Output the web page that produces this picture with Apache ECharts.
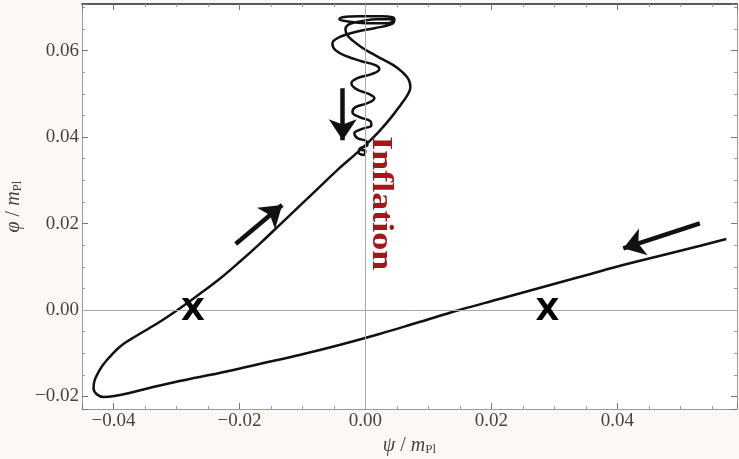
<!DOCTYPE html>
<html><head><meta charset="utf-8">
<script src="https://cdn.jsdelivr.net/npm/echarts@6/dist/echarts.min.js"></script>
<style>html,body{margin:0;padding:0;background:#fcf9f5;} #c{width:739px;height:459px;}</style>
</head><body><div id="c"></div>
<script>
// axis extents (psi / m_Pl horizontal, phi / m_Pl vertical)
const xRange = [-0.045, 0.059];
const yRange = [-0.0229, 0.0708];
const xTitle = '{i|ψ} / {i|m}{s|Pl}';
const yTitle = '{i|φ} / {i|m}{s|Pl}';

// trajectory
const trajPsi = [
  0.0573, 0.05302, 0.04667, 0.04032, 0.03397, 0.02762, 0.02127, 0.01492, 0.00857, 0.00222,
  -0.00413, -0.01048, -0.01683, -0.02317, -0.02952, -0.03429, -0.03746, -0.03984, -0.04159, -0.0427,
  -0.04317, -0.04302, -0.04254, -0.0419, -0.04111, -0.04016, -0.03921, -0.0381, -0.03667, -0.03508,
  -0.03333, -0.03159, -0.02984, -0.02794, -0.02603, -0.02317, -0.02,
  -0.01683, -0.01365, -0.01048, -0.0073, -0.00413, -0.00175, 0.0, 0.00222, 0.00413,
  0.00556, 0.00667, 0.00714, 0.00683, 0.00587, 0.00444, 0.0027, 0.00095, -0.00063, -0.0019,
  -0.00286, -0.00317, -0.00254, -0.00063, 0.0019, 0.00397, 0.00444, 0.00317, 0.0, -0.00302,
  -0.00413, -0.00365, -0.00095, 0.00254, 0.00429, 0.0046, 0.00413, 0.00143, -0.00175, -0.00413,
  -0.00524, -0.00476, -0.00302, -0.00063, 0.00159, 0.00222, 0.00095, -0.00127, -0.00222, -0.00143,
  0.00063, 0.00143, 0.00032, -0.00159, -0.00206, -0.00095, 0.00079, 0.00095, -0.00063, -0.00175,
  -0.00127, 0.00016, 0.00032, -0.00079, -0.00111, -0.00032, 0.0, -0.00063
];
const trajPhi = [
  0.01642, 0.0148, 0.01249, 0.01017, 0.00763, 0.00509, 0.00254, 0.0, -0.00277, -0.00555,
  -0.00809, -0.0104, -0.01249, -0.01457, -0.01642, -0.01803, -0.01919, -0.01988, -0.02012, -0.01942,
  -0.01803, -0.01642, -0.0148, -0.01318, -0.01168, -0.01017, -0.00879, -0.00751, -0.00624, -0.00486,
  -0.00335, -0.00173, 0.0, 0.00197, 0.00405, 0.00717, 0.0111,
  0.01526, 0.01965, 0.02405, 0.02844, 0.03283, 0.03584, 0.03815, 0.04139, 0.04462,
  0.0474, 0.04971, 0.05156, 0.05341, 0.05503, 0.05665, 0.05803, 0.05942, 0.06081, 0.0622,
  0.06358, 0.06497, 0.06613, 0.06682, 0.06728, 0.06728, 0.06682, 0.06636, 0.06636, 0.06682,
  0.06728, 0.06775, 0.06798, 0.06798, 0.06775, 0.06717, 0.06613, 0.0652, 0.06428, 0.06312,
  0.06173, 0.06012, 0.05873, 0.05757, 0.05665, 0.05572, 0.05457, 0.05364, 0.05249, 0.0511,
  0.04994, 0.04902, 0.04786, 0.04694, 0.04578, 0.04462, 0.0437, 0.04277, 0.04185, 0.04092,
  0.03977, 0.03908, 0.03815, 0.03746, 0.03653, 0.03584, 0.03676, 0.037
];

// "X" markers
const markerPsi = [-0.0274, 0.0289];
const markerPhi = [-0.0004, -0.0004];
const markerText = ['X', 'X'];

// direction arrows: tail -> tip
const arrowTailPsi = [-0.0036, -0.0206, 0.0531];
const arrowTailPhi = [0.0513, 0.01526, 0.02005];
const arrowTipPsi = [-0.0036, -0.01322, 0.04095];
const arrowTipPhi = [0.0393, 0.02428, 0.01427];

// annotation
const noteText = 'Inflation';
const notePsi = 0.0024;
const notePhi = 0.0247;

const traj = trajPsi.map((v, i) => [v, trajPhi[i]]);
const markers = markerPsi.map((v, i) => ({ value: [v, markerPhi[i]], name: markerText[i] }));
const arrows = arrowTailPsi.map((v, i) => ({ coords: [[v, arrowTailPhi[i]], [arrowTipPsi[i], arrowTipPhi[i]]] }));

const fmt = v => (v < -1e-9 ? '−' : '') + Math.abs(v).toFixed(2);
const serif = 'Liberation Serif';
const richName = {
  i: { fontFamily: serif, fontStyle: 'italic', fontSize: 20, color: '#444' },
  s: { fontFamily: serif, fontSize: 13, color: '#444', verticalAlign: 'bottom', padding: [7, 0, 0, 0] }
};
const frameColor = '#9a9a9a';

function axisBase(extra) {
  return Object.assign({
    type: 'value',
    splitLine: { show: false },
    axisLine: { show: true, onZero: false, lineStyle: { color: frameColor, width: 1 } },
    axisTick: { show: true, inside: true, length: 6, lineStyle: { color: '#777' } },
    minorTick: { show: true, splitNumber: 4, length: 3, lineStyle: { color: '#999' } },
    axisLabel: { show: false }
  }, extra);
}

const chart = echarts.init(document.getElementById('c'), null, { renderer: 'canvas' });
chart.setOption({
  animation: false,
  backgroundColor: '#fcf9f5',
  grid: { left: 82, right: 2, top: 4, bottom: 50, show: true, backgroundColor: '#ffffff', borderWidth: 0,
    containLabel: false, outerBoundsMode: 'none' },
  xAxis: [
    axisBase({
      min: xRange[0], max: xRange[1], position: 'bottom',
      axisLabel: { show: true, formatter: fmt, showMinLabel: false, showMaxLabel: false,
        fontFamily: serif, fontSize: 19, color: '#444', margin: 3 },
      name: xTitle, nameLocation: 'middle', nameGap: 27,
      nameTextStyle: { rich: richName, fontFamily: serif, fontSize: 20, color: '#444' }
    }),
    axisBase({ min: xRange[0], max: xRange[1], position: 'top',
      axisLine: { show: true, onZero: false, lineStyle: { color: '#222', width: 1.5 } } })
  ],
  yAxis: [
    axisBase({
      min: yRange[0], max: yRange[1], position: 'left',
      axisLabel: { show: true, formatter: fmt, showMinLabel: false, showMaxLabel: false,
        fontFamily: serif, fontSize: 19, color: '#444', margin: 3 },
      name: yTitle, nameLocation: 'middle', nameGap: 52, nameRotate: 90,
      nameTextStyle: { rich: richName, fontFamily: serif, fontSize: 20, color: '#444' }
    }),
    axisBase({ min: yRange[0], max: yRange[1], position: 'right' })
  ],
  series: [
    {
      type: 'line', xAxisIndex: 0, yAxisIndex: 0, z: 1, data: [], silent: true,
      markLine: {
        silent: true, symbol: 'none', animation: false,
        lineStyle: { color: '#aaa', width: 1, type: 'solid' },
        label: { show: false },
        data: [{ xAxis: 0 }, { yAxis: 0 }]
      }
    },
    {
      type: 'line', xAxisIndex: 0, yAxisIndex: 0, z: 3,
      data: traj, showSymbol: false, smooth: 0.4,
      lineStyle: { color: '#111', width: 2.5 }
    },
    {
      type: 'scatter', xAxisIndex: 0, yAxisIndex: 0, z: 5,
      data: markers, symbolSize: 2, itemStyle: { color: '#000', opacity: 0 },
      emphasis: { disabled: true },
      label: { show: true, position: 'inside', formatter: p => p.name, opacity: 1,
        fontFamily: 'DejaVu Sans', fontWeight: 'bold', fontSize: 31, color: '#000',
        textBorderWidth: 0 }
    },
    {
      type: 'lines', coordinateSystem: 'cartesian2d', xAxisIndex: 0, yAxisIndex: 0, z: 4,
      data: arrows, symbol: ['none', 'arrow'], symbolSize: 21,
      lineStyle: { color: '#111', width: 4.5, opacity: 1 }
    }
  ]
});

const pos = chart.convertToPixel({ xAxisIndex: 0, yAxisIndex: 0 }, [notePsi, notePhi]);
chart.setOption({
  graphic: [{
    type: 'text', x: pos[0], y: pos[1], rotation: -Math.PI / 2, scaleX: 1.2, z: 10,
    style: { text: noteText, fontFamily: serif, fontWeight: 'bold', fontSize: 30,
      fill: '#a3171b', align: 'center', verticalAlign: 'middle' }
  }]
});
</script>
</body></html>
